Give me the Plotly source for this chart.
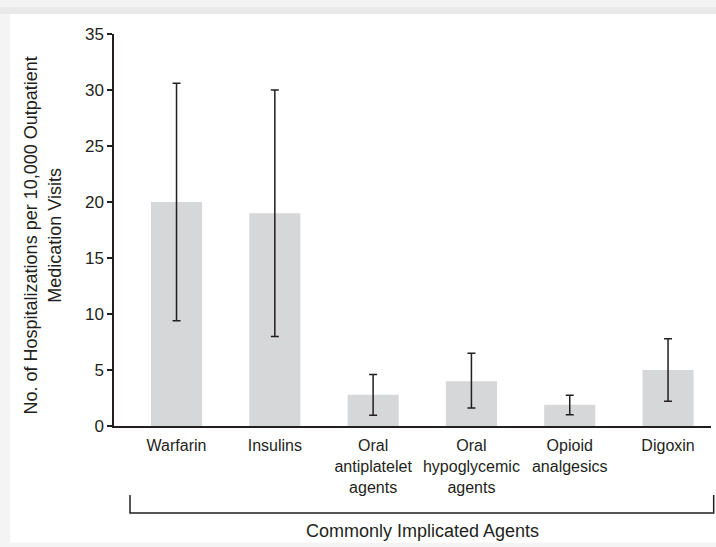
import plotly.graph_objects as go

categories = ["Warfarin", "Insulins", "Oral<br>antiplatelet<br>agents",
              "Oral<br>hypoglycemic<br>agents", "Opioid<br>analgesics", "Digoxin"]
rates = [20.0, 19.0, 2.8, 4.0, 1.9, 5.0]
ci_low = [9.4, 8.0, 0.95, 1.6, 1.0, 2.2]
ci_high = [30.6, 30.0, 4.6, 6.5, 2.75, 7.8]

err_plus = [h - v for h, v in zip(ci_high, rates)]
err_minus = [v - l for l, v in zip(ci_low, rates)]

font_family = "Liberation Sans, Arial, sans-serif"
ink = "#231f20"

fig = go.Figure()
fig.add_trace(go.Bar(
    x=list(range(len(categories))),
    y=rates,
    marker=dict(color="#d6d7d9", line=dict(width=0)),
    error_y=dict(type="data", symmetric=False, array=err_plus, arrayminus=err_minus,
                 color=ink, thickness=1.5, width=4),
    width=0.52,
    hoverinfo="y",
))

shapes = [
    # page background decorations
    dict(type="rect", xref="paper", yref="paper", x0=-0.2, x1=1.01, y0=1.069, y1=1.09,
         fillcolor="#f3f3f3", line=dict(width=0), layer="below"),
    dict(type="rect", xref="paper", yref="paper", x0=-0.2, x1=1.01, y0=1.051, y1=1.069,
         fillcolor="#e9e9e9", line=dict(width=0), layer="below"),
    dict(type="rect", xref="paper", yref="paper", x0=-0.2, x1=-0.174, y0=-0.31, y1=1.051,
         fillcolor="#f4f4f4", line=dict(width=0), layer="below"),
    dict(type="rect", xref="paper", yref="paper", x0=-0.2, x1=1.01, y0=-0.31, y1=-0.298,
         fillcolor="#f4f4f4", line=dict(width=0), layer="below"),
    # bracket
    dict(type="path", xref="paper", yref="paper",
         path="M 0.0268 -0.176 L 0.0268 -0.222 L 1.0045 -0.222 L 1.0045 -0.176",
         line=dict(color=ink, width=1.5)),
]

fig.update_layout(
    width=716, height=547,
    margin=dict(l=114, r=5, t=34, b=121),
    paper_bgcolor="white", plot_bgcolor="white",
    showlegend=False,
    font=dict(family=font_family, color=ink, size=16),
    bargap=0.48,
    shapes=shapes,
    annotations=[
        dict(text="Commonly Implicated Agents", xref="paper", yref="paper",
             x=0.516, y=-0.268, showarrow=False, xanchor="center", yanchor="middle",
             font=dict(size=18, family=font_family, color=ink)),
        dict(text="No. of Hospitalizations per 10,000 Outpatient<br>Medication Visits",
             xref="paper", yref="paper", x=-0.12, y=0.487, textangle=-90,
             showarrow=False, xanchor="center", yanchor="middle",
             font=dict(size=18, family=font_family, color=ink)),
    ],
)
fig.update_xaxes(
    range=[-0.636, 5.437],
    tickmode="array", tickvals=list(range(len(categories))), ticktext=categories,
    showline=True, linecolor=ink, linewidth=1.5, ticks="", showgrid=False, zeroline=False,
    tickfont=dict(size=16), ticklabelstandoff=4,
)
fig.update_yaxes(
    range=[0, 35], tickvals=[0, 5, 10, 15, 20, 25, 30, 35],
    showline=True, linecolor=ink, linewidth=1.5, ticks="outside", ticklen=5,
    tickcolor=ink, tickwidth=1.5, showgrid=False, zeroline=False,
    tickfont=dict(size=17),
)

fig.write_html("out.html", config={"displayModeBar": False},
               post_script="document.body.style.margin='0';document.body.style.overflow='hidden';")
